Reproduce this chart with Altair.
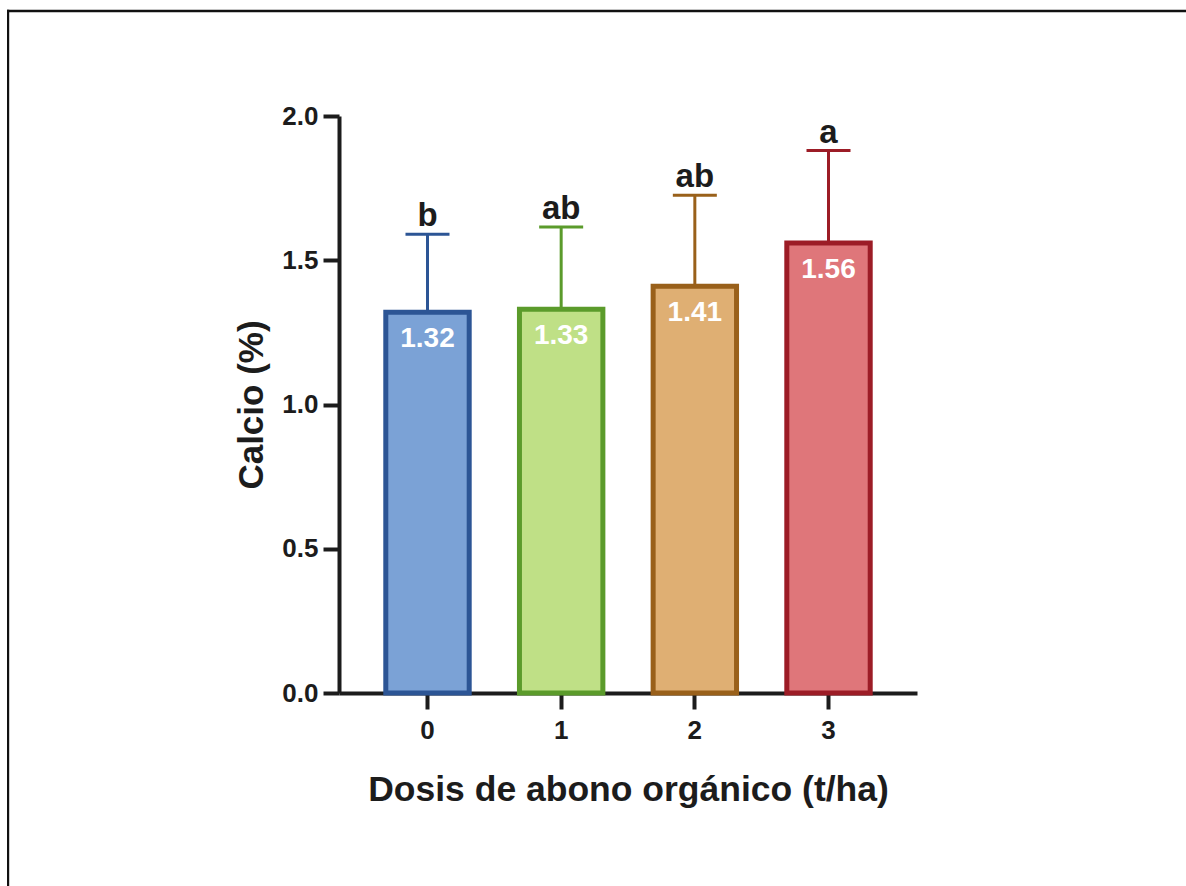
import altair as alt
import pandas as pd

# Calcium content by organic fertilizer dose (mean + SD, Tukey letters)
doses = ["0", "1", "2", "3"]
calcio = [1.32, 1.33, 1.41, 1.56]
sd = [0.27, 0.285, 0.315, 0.32]
letters = ["b", "ab", "ab", "a"]
fill_colors = ["#7BA2D6", "#BFE086", "#DFAF73", "#DF767A"]
edge_colors = ["#2C5595", "#5B9B2B", "#99601A", "#9C1C26"]
y_ticks = [0.0, 0.5, 1.0, 1.5, 2.0]

df = pd.DataFrame({"dosis": doses, "calcio": calcio, "sd": sd, "letra": letters})
df["upper"] = df["calcio"] + df["sd"]
df["etiqueta"] = df["calcio"].map(lambda v: f"{v:.2f}")

FONT = "Liberation Sans"
INK = "#1c1c1c"

x_enc = alt.X(
    "dosis:N",
    sort=doses,
    scale=alt.Scale(paddingInner=0.376, paddingOuter=0.35),
    axis=alt.Axis(
        title="Dosis de abono orgánico (t/ha)",
        labelAngle=0,
        labelFont=FONT, labelFontSize=26, labelFontWeight="bold", labelColor=INK,
        labelPadding=8,
        titleFont=FONT, titleFontSize=35.5, titleFontWeight="bold", titleColor=INK,
        titlePadding=29,
        domainColor=INK, domainWidth=4,
        tickColor=INK, tickWidth=4, tickSize=16,
    ),
)
y_enc = alt.Y(
    "calcio:Q",
    scale=alt.Scale(domain=[0, 2], nice=False),
    axis=alt.Axis(
        title="Calcio (%)",
        values=y_ticks,
        format=".1f",
        labelFont=FONT, labelFontSize=26, labelFontWeight="bold", labelColor=INK,
        labelPadding=5,
        titleFont=FONT, titleFontSize=35, titleFontWeight="bold", titleColor=INK,
        titlePadding=12,
        domainColor=INK, domainWidth=4,
        tickColor=INK, tickWidth=4, tickSize=16,
        grid=False,
    ),
)
edge_scale = alt.Scale(domain=doses, range=edge_colors)
fill_scale = alt.Scale(domain=doses, range=fill_colors)

base = alt.Chart(df)

err_line = base.mark_rule(strokeWidth=3).encode(
    x=x_enc, y=y_enc, y2="upper:Q",
    color=alt.Color("dosis:N", scale=edge_scale, legend=None),
)
err_cap = base.mark_tick(size=44, thickness=3, opacity=1).encode(
    x=x_enc, y=alt.Y("upper:Q", title="Calcio (%)"),
    color=alt.Color("dosis:N", scale=edge_scale, legend=None),
)
bars = base.mark_bar(strokeWidth=5).encode(
    x=x_enc, y=y_enc,
    fill=alt.Fill("dosis:N", scale=fill_scale, legend=None),
    stroke=alt.Stroke("dosis:N", scale=edge_scale, legend=None),
)
value_text = base.mark_text(
    font=FONT, fontSize=28, fontWeight="bold", color="white",
    baseline="alphabetic", dy=35,
).encode(x=x_enc, y=y_enc, text="etiqueta:N")
letter_text = base.mark_text(
    font=FONT, fontSize=33, fontWeight="bold", color=INK,
    baseline="alphabetic", dy=-8,
).encode(x=x_enc, y=alt.Y("upper:Q", title="Calcio (%)"), text="letra:N")

# open frame around the figure: thin filled strips for the top and left edges
frame_src = alt.Chart(pd.DataFrame({"k": [0]}))
frame_top = frame_src.mark_rect(fill="#111111", strokeWidth=0).encode(
    x=alt.value(-332), x2=alt.value(847), y=alt.value(-106.3), y2=alt.value(-103.8)
)
frame_left = frame_src.mark_rect(fill="#111111", strokeWidth=0).encode(
    x=alt.value(-332), x2=alt.value(-329.8), y=alt.value(-106.3), y2=alt.value(770)
)

chart = (
    alt.layer(err_line, err_cap, bars, value_text, letter_text, frame_top, frame_left)
    .properties(
        width=578,
        height=577,
        autosize=alt.AutoSizeParams(type="none"),
        padding={"left": 339, "top": 116, "right": 269, "bottom": 193},
        background="white",
    )
    .configure_view(stroke=None)
)

chart.save("out.html", embed_options={"renderer": "svg", "actions": False})
